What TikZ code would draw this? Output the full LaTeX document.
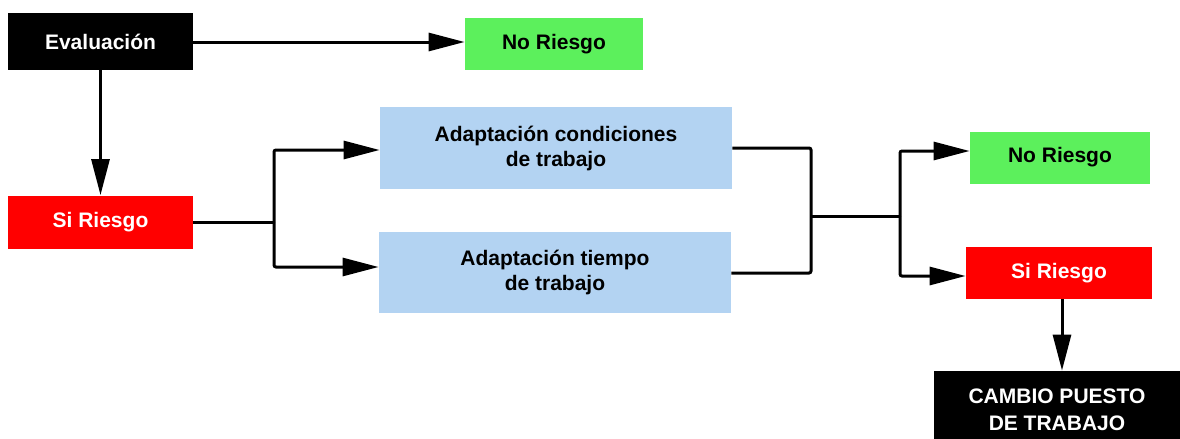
\documentclass[tikz,border=0pt]{standalone}
\usepackage{fontspec}
\setmainfont{Liberation Sans}
\usetikzlibrary{arrows.meta}
\definecolor{okgreen}{HTML}{5CF05C}
\definecolor{riskred}{HTML}{FF0000}
\definecolor{softblue}{HTML}{B3D3F2}
\tikzset{
  box/.style={rectangle, inner sep=0pt, align=center, font=\bfseries\fontsize{10.5}{12.5}\selectfont},
  blackbox/.style={box, fill=black, text=white},
  greenbox/.style={box, fill=okgreen, text=black},
  redbox/.style={box, fill=riskred, text=white},
  bluebox/.style={box, fill=softblue, text=black},
  conn/.style={line width=1.5pt, draw=black, rounded corners=1pt},
  arr/.style={conn, -{Triangle[length=18pt,width=9pt]}},
}
\begin{document}
\begin{tikzpicture}[x=0.5pt,y=-0.5pt]
\useasboundingbox (0,0) rectangle (1180,439);
\clip (0,0) rectangle (1180,439);
\fill[white] (0,0) rectangle (1180,439);
\node[blackbox, minimum width=92.5pt, minimum height=28.5pt] (eval) at (100.5,41.5) {Evaluación};
\node[greenbox, minimum width=89pt, minimum height=26pt] (nr1) at (554,44) {No Riesgo};
\node[redbox, minimum width=92.5pt, minimum height=26.5pt] (si1) at (100.5,222) {Si Riesgo};
\node[bluebox, minimum width=176pt, minimum height=41pt] (a1) at (556,148) {Adaptación condiciones\\de trabajo};
\node[bluebox, minimum width=176pt, minimum height=40.5pt] (a2) at (555,272.5) {Adaptación tiempo\\de trabajo};
\node[greenbox, minimum width=90pt, minimum height=26pt] (nr2) at (1060,157.5) {No Riesgo};
\node[redbox, minimum width=93pt, minimum height=26pt] (si2) at (1059,273) {Si Riesgo};
\node[blackbox, minimum width=123pt, minimum height=39pt, font=\bfseries\fontsize{10.5}{13.5}\selectfont] (cambio) at (1057,410) {CAMBIO PUESTO\\DE TRABAJO};

\coordinate (j1) at (274,222);
\coordinate (k1) at (811,148);
\coordinate (k2) at (811,273);
\coordinate (km) at (811,216);
\coordinate (j2) at (900,216);

\draw[arr] (eval.east |- 0,42) -- (nr1.west |- 0,42);
\draw[arr] (eval.south) -- (si1.north);
\draw[conn] (si1.east) -- (j1);
\draw[arr] (j1) |- (a1.west |- 0,150);
\draw[arr] (j1) |- (a2.west |- 0,267);
\draw[conn] (a1.east |- k1) -- (k1) -- (k2) -- (a2.east |- k2);
\draw[conn] (km) -- (j2);
\draw[arr] (j2) |- (nr2.west |- 0,151);
\draw[arr] (j2) |- (si2.west |- 0,276);
\draw[arr] (si2.south -| 1062,0) -- (cambio.north -| 1062,0);
\end{tikzpicture}
\end{document}
